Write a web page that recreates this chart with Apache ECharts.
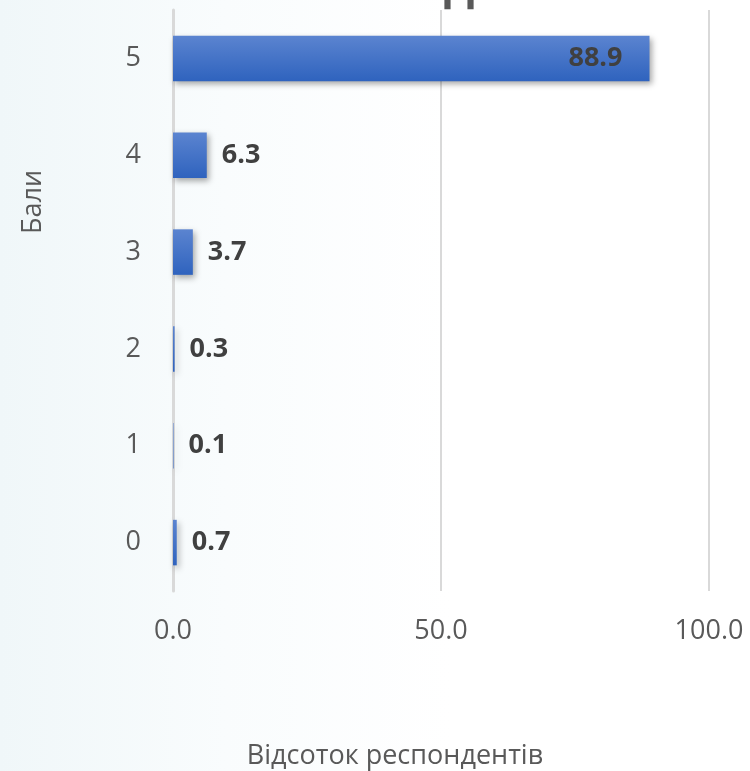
<!DOCTYPE html>
<html>
<head>
<meta charset="utf-8">
<script src="https://cdn.jsdelivr.net/npm/echarts@6/dist/echarts.min.js"></script>
<style>
  html, body { margin: 0; padding: 0; background: #fff; }
  #chart { width: 750px; height: 771px; }
</style>
</head>
<body>
<div id="chart"></div>
<script>
// дані з діаграми
var categories = ['0', '1', '2', '3', '4', '5'];
var percents = [0.7, 0.1, 0.3, 3.7, 6.3, 88.9];
var xTicks = [0, 50, 100];

var chart = echarts.init(document.getElementById('chart'));
var font = '"Open Sans", "Noto Sans", sans-serif';

chart.setOption({
  backgroundColor: {
    type: 'linear', x: 0, y: 0, x2: 1, y2: 0,
    colorStops: [
      { offset: 0, color: '#f0f7f9' },
      { offset: 0.3, color: '#f9fcfd' },
      { offset: 0.6, color: '#ffffff' }
    ]
  },
  grid: { left: 173, right: 41, top: 10, bottom: 180 },
  graphic: [
    {
      // заголовок обрізаний зверху
      type: 'text', x: 428, y: 10,
      style: {
        text: 'викладача',
        align: 'center', verticalAlign: 'bottom',
        font: 'bold 46px ' + font, fill: '#595959'
      }
    },
    {
      type: 'text', x: 33, y: 202, rotation: Math.PI / 2,
      style: {
        text: 'Бали', align: 'center', verticalAlign: 'middle',
        font: '27px ' + font, fill: '#595959'
      }
    },
    {
      type: 'text', x: 395, y: 756,
      style: {
        text: 'Відсоток респондентів', align: 'center', verticalAlign: 'middle',
        font: '27px ' + font, fill: '#595959'
      }
    }
  ],
  xAxis: {
    type: 'value', min: 0, max: 100, interval: 50,
    axisLine: { show: false },
    axisTick: { show: false },
    axisLabel: {
      margin: 27, fontSize: 27, fontFamily: font, color: '#595959',
      formatter: function (v) { return xTicks.indexOf(v) >= 0 ? v.toFixed(1) : ''; }
    },
    splitLine: { lineStyle: { color: '#d9d9d9', width: 2 } }
  },
  yAxis: {
    type: 'category', data: categories,
    axisLine: { show: true, lineStyle: { color: '#d9d9d9', width: 3 } },
    axisTick: { show: false },
    axisLabel: { margin: 32, fontSize: 27, fontFamily: font, color: '#595959' }
  },
  series: [{
    type: 'bar',
    data: percents.map(function (v, i) {
      return {
        value: v,
        label: i === 5
          ? { position: 'insideRight', distance: 27 }
          : { position: 'right', distance: 15 }
      };
    }),
    barCategoryGap: '53%',
    itemStyle: {
      color: {
        type: 'linear', x: 0, y: 0, x2: 0, y2: 1,
        colorStops: [
          { offset: 0, color: '#5b84d0' },
          { offset: 1, color: '#2f63be' }
        ]
      },
      shadowColor: 'rgba(0,0,0,0.35)',
      shadowBlur: 6,
      shadowOffsetX: 2,
      shadowOffsetY: 3
    },
    label: {
      show: true,
      fontFamily: font, fontWeight: 'bold', fontSize: 27, color: '#404040',
      formatter: function (p) { return p.value.toFixed(1); }
    }
  }]
});
</script>
</body>
</html>
